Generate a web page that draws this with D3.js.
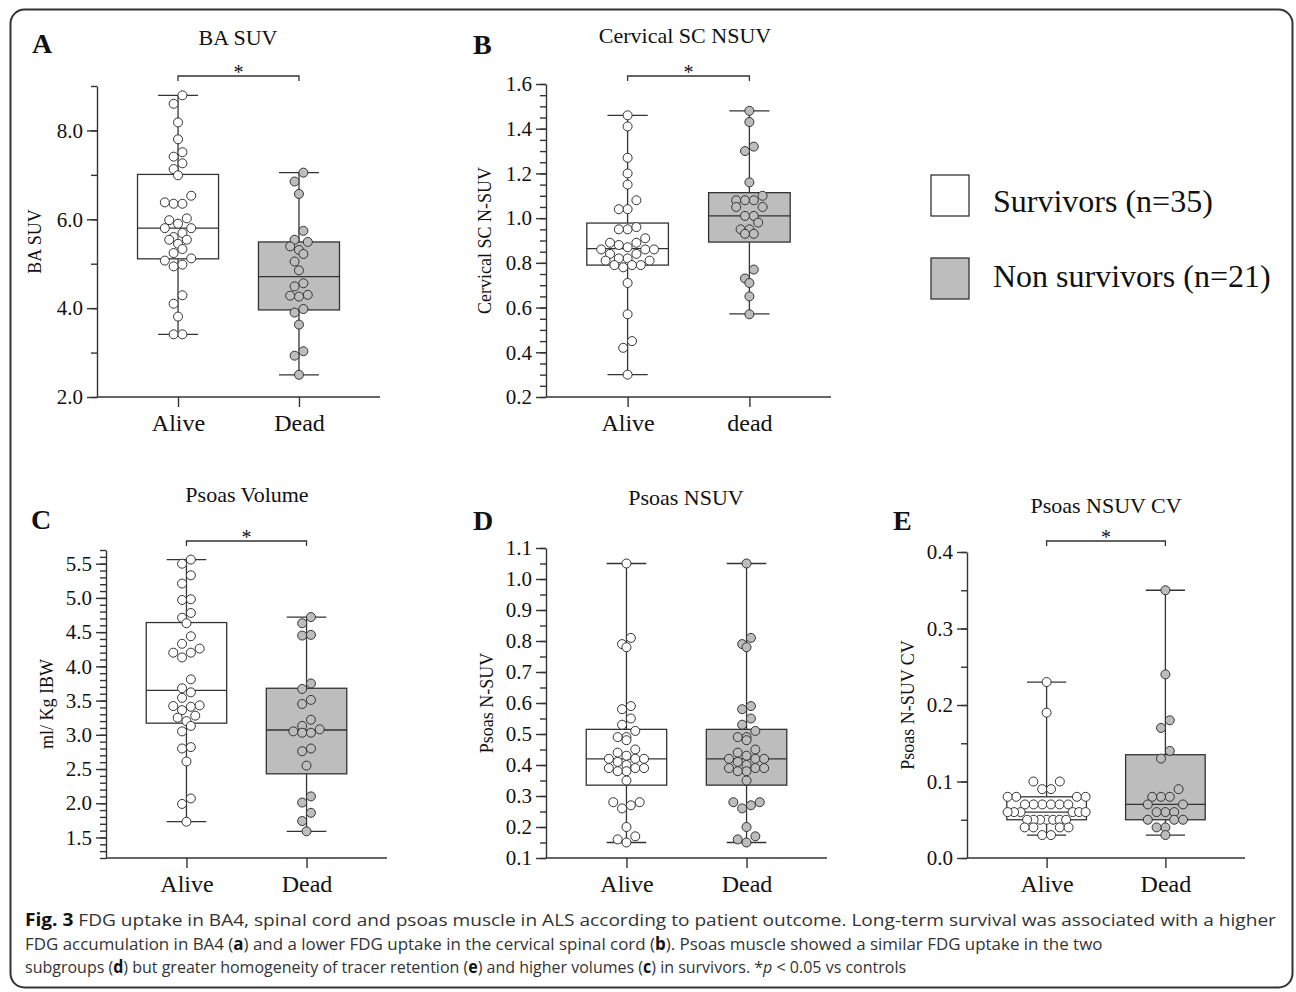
<!DOCTYPE html>
<html lang="en">
<head>
<meta charset="UTF-8">
<script src="https://cdnjs.cloudflare.com/ajax/libs/d3/7.8.5/d3.min.js"></script>
<style>
body { margin: 0; background: #fff; }
svg { display: block; }
.serif { font-family: "Liberation Serif", "Times New Roman", serif; fill: #111; }
.axis path, .axis line { stroke: #333; stroke-width: 1.4; fill: none; }
.axis text { font-family: "Liberation Serif", "Times New Roman", serif; fill: #111; }
.caption { font-family: "Open Sans", "Noto Sans", sans-serif; font-size: 17px; fill: #333; }
</style>
</head>
<body>
<script>
// ---- data ----
var groups = ["Alive", "Dead"];
var catsA = ["Alive", "Dead"];
var catsB = ["Alive", "dead"];

// A: BA SUV
var baAlive = [8.79, 8.6, 8.18, 7.8, 7.51, 7.41, 7.26, 7.13, 6.99, 6.53, 6.35, 6.35, 6.38, 6.02, 5.98, 5.9, 5.8, 5.8,
  5.69, 5.6, 5.54, 5.45, 5.54, 5.33, 5.24, 5.12, 5.07, 4.94, 4.98, 4.29, 4.1, 3.81, 3.41, 3.41];
var baDead = [7.05, 6.85, 6.57, 5.74, 5.49, 5.54, 5.39, 5.31, 5.22, 5.05, 4.85, 4.56, 4.49, 4.3, 4.26, 4.28, 3.98,
  3.9, 3.63, 3.03, 2.93, 2.5];
var baBoxAlive = [3.41, 5.11, 5.8, 7.01, 8.79];   // min, q1, median, q3, max
var baBoxDead = [2.5, 3.96, 4.71, 5.49, 7.05];
var ticksA = [2, 4, 6, 8];

// B: Cervical SC NSUV
var scAlive = [1.46, 1.41, 1.27, 1.2, 1.15, 1.08, 1.04, 1.04, 0.95, 0.95, 0.96, 0.91, 0.89, 0.89, 0.88, 0.87, 0.86,
  0.86, 0.86, 0.84, 0.84, 0.82, 0.82, 0.81, 0.81, 0.79, 0.78, 0.79, 0.79, 0.71, 0.57, 0.45, 0.42, 0.3];
var scDead = [1.48, 1.43, 1.32, 1.3, 1.16, 1.1, 1.08, 1.08, 1.08, 1.05, 1.05, 1.01, 1.01, 0.98, 0.95, 0.95, 0.93,
  0.93, 0.77, 0.71, 0.73, 0.65, 0.57];
var scBoxAlive = [0.3, 0.79, 0.864, 0.978, 1.46];
var scBoxDead = [0.572, 0.893, 1.01, 1.114, 1.48];
var ticksB = [0.2, 0.4, 0.6, 0.8, 1.0, 1.2, 1.4, 1.6];

// C: Psoas Volume
var volAlive = [5.56, 5.5, 5.33, 5.21, 4.97, 4.98, 4.78, 4.71, 4.63, 4.44, 4.33, 4.26, 4.2, 4.2, 4.13, 3.81, 3.68,
  3.62, 3.54, 3.42, 3.36, 3.41, 3.43, 3.25, 3.2, 3.28, 3.13, 3.05, 2.82, 2.8, 2.61, 2.07, 1.99, 1.73];
var volDead = [4.72, 4.63, 4.46, 4.45, 3.75, 3.67, 3.51, 3.45, 3.22, 3.08, 3.03, 3.03, 3.05, 3.13, 2.76, 2.8, 2.55,
  2.1, 2.01, 1.86, 1.74, 1.59];
var volBoxAlive = [1.73, 3.17, 3.65, 4.64, 5.56];
var volBoxDead = [1.59, 2.43, 3.07, 3.68, 4.72];
var ticksC = [1.5, 2.0, 2.5, 3.0, 3.5, 4.0, 4.5, 5.0, 5.5];

// D: Psoas NSUV
var psAlive = [1.05, 0.81, 0.79, 0.78, 0.58, 0.59, 0.55, 0.53, 0.51, 0.49, 0.49, 0.48, 0.45, 0.44, 0.42, 0.42, 0.42,
  0.43, 0.41, 0.4, 0.39, 0.39, 0.39, 0.38, 0.38, 0.35, 0.28, 0.28, 0.26, 0.27, 0.2, 0.17, 0.16, 0.15];
var psDead = [1.05, 0.81, 0.79, 0.78, 0.58, 0.59, 0.55, 0.53, 0.51, 0.49, 0.49, 0.48, 0.45, 0.44, 0.42, 0.42, 0.42,
  0.43, 0.41, 0.4, 0.39, 0.39, 0.39, 0.38, 0.38, 0.35, 0.28, 0.28, 0.26, 0.27, 0.2, 0.17, 0.16, 0.15];
var psBoxAlive = [0.15, 0.335, 0.42, 0.515, 1.05];
var psBoxDead = [0.15, 0.335, 0.42, 0.515, 1.05];
var ticksD = [0.1, 0.2, 0.3, 0.4, 0.5, 0.6, 0.7, 0.8, 0.9, 1.0, 1.1];

// E: Psoas NSUV CV
var cvAlive = [0.23, 0.19, 0.10, 0.10, 0.09, 0.09, 0.08, 0.08, 0.08, 0.08, 0.07, 0.07, 0.07, 0.07, 0.07, 0.07,
  0.06, 0.06, 0.06, 0.06, 0.06, 0.06, 0.05, 0.05, 0.05, 0.05, 0.05, 0.05, 0.05, 0.04, 0.04, 0.04, 0.04, 0.03, 0.03];
var cvDead = [0.35, 0.24, 0.18, 0.17, 0.14, 0.13, 0.09, 0.08, 0.08, 0.08, 0.07, 0.07, 0.06, 0.06, 0.06, 0.05, 0.05,
  0.05, 0.04, 0.04, 0.03];
var cvBoxAlive = [0.03, 0.05, 0.06, 0.08, 0.23];
var cvBoxDead = [0.03, 0.05, 0.07, 0.135, 0.35];
var ticksE = [0, 0.1, 0.2, 0.3, 0.4];

var legendLabels = ["Survivors (n=35)", "Non survivors (n=21)"];

// ---- layout ----
var W = 1296, H = 992;
var fills = ["#ffffff", "#bdbdbd"];
var ink = "#333";

var panels = [
  { letter: "A", title: "BA SUV", yLabel: "BA SUV", cats: catsA, vals: [baAlive, baDead], boxes: [baBoxAlive, baBoxDead],
    domain: [2, 9], major: ticksA, minor: 1, sig: 76,
    left: 97, right: 380, top: 86, bottom: 397, lx: 32, ly: 53, tx: 238, ty: 45, yOff: 62 },
  { letter: "B", title: "Cervical SC NSUV", yLabel: "Cervical SC N-SUV", cats: catsB, vals: [scAlive, scDead], boxes: [scBoxAlive, scBoxDead],
    domain: [0.2, 1.6], major: ticksB, minor: 0.05, sig: 76,
    left: 546, right: 831, top: 84, bottom: 397, lx: 473, ly: 54, tx: 685, ty: 43, yOff: 61 },
  { letter: "C", title: "Psoas Volume", yLabel: "ml/ Kg IBW", cats: catsA, vals: [volAlive, volDead], boxes: [volBoxAlive, volBoxDead],
    domain: [1.2, 5.7], major: ticksC, minor: 0.1, sig: 541,
    left: 106, right: 387, top: 550, bottom: 858, lx: 31, ly: 529, tx: 247, ty: 502, yOff: 59 },
  { letter: "D", title: "Psoas NSUV", yLabel: "Psoas N-SUV", cats: catsA, vals: [psAlive, psDead], boxes: [psBoxAlive, psBoxDead],
    domain: [0.1, 1.1], major: ticksD, minor: 0.05, sig: null,
    left: 546, right: 827, top: 548, bottom: 858, lx: 473, ly: 530, tx: 686, ty: 505, yOff: 59 },
  { letter: "E", title: "Psoas NSUV CV", yLabel: "Psoas N-SUV CV", cats: catsA, vals: [cvAlive, cvDead], boxes: [cvBoxAlive, cvBoxDead],
    domain: [0, 0.4], major: ticksE, minor: 0.05, sig: 541,
    left: 967, right: 1245, top: 552, bottom: 858, lx: 893, ly: 530, tx: 1106, ty: 513, yOff: 59 }
];

var svg = d3.select("body").append("svg")
  .attr("width", W).attr("height", H);

svg.append("rect")
  .attr("x", 10.5).attr("y", 9.5).attr("width", 1282).attr("height", 978)
  .attr("rx", 14).attr("fill", "none").attr("stroke", ink).attr("stroke-width", 2);

// prism-style scatter: points falling in the same ~9px band are spread
// sideways from the centre outwards (lowest values in the middle)
function swarm(ys, binH, maxW, dMax) {
  var bins = [], cur = null;
  ys.slice().sort(function (a, b) { return a - b; }).forEach(function (yy) {
    if (!cur || yy - cur.start >= binH) { cur = { start: yy, ys: [] }; bins.push(cur); }
    cur.ys.push(yy);
  });
  var out = [];
  bins.forEach(function (b) {
    var k = b.ys.length;
    var d = k > 1 ? Math.min(dMax, maxW / (k - 1)) : 0;
    b.ys.slice().sort(function (a, c) { return c - a; }).forEach(function (yy, j) {
      var off;
      if (k % 2) off = j === 0 ? 0 : Math.ceil(j / 2) * (j % 2 ? -1 : 1) * d;
      else off = (Math.floor(j / 2) + 0.5) * (j % 2 ? 1 : -1) * d;
      out.push({ x: off, y: yy });
    });
  });
  return out;
}

panels.forEach(function (p) {
  var g = svg.append("g");

  var y = d3.scaleLinear().domain(p.domain).range([p.bottom, p.top]);
  var x = d3.scalePoint().domain(groups).range([p.left, p.right]).padding(0.67);
  var boxW = x.step() * 0.67, capW = x.step() * 0.33;

  // minor ticks
  g.append("g").attr("class", "axis")
    .attr("transform", "translate(" + p.left + ",0)")
    .call(d3.axisLeft(y).tickValues(d3.range(p.domain[0], p.domain[1] + p.minor / 2, p.minor))
      .tickSize(6).tickSizeOuter(0).tickFormat(""))
    .select(".domain").remove();

  g.append("g").attr("class", "axis")
    .attr("transform", "translate(" + p.left + ",0)")
    .call(d3.axisLeft(y).tickValues(p.major).tickSize(10).tickSizeOuter(0).tickPadding(4)
      .tickFormat(d3.format(".1f")))
    .selectAll("text").style("font-size", "21px");

  var xa = g.append("g").attr("class", "axis")
    .attr("transform", "translate(0," + p.bottom + ")")
    .call(d3.axisBottom(x).tickSize(10).tickSizeOuter(0).tickFormat(function (d, i) { return p.cats[i]; }));
  xa.select(".domain").attr("d", "M" + p.left + ",0H" + p.right);
  xa.selectAll("text").style("font-size", "24px").attr("y", 34).attr("dy", 0);

  // whiskers + boxes
  groups.forEach(function (grp, i) {
    var b = p.boxes[i], cx = x(grp);
    g.append("line").attr("x1", cx).attr("x2", cx).attr("y1", y(b[0])).attr("y2", y(b[1]))
      .attr("stroke", ink).attr("stroke-width", 1.3);
    g.append("line").attr("x1", cx).attr("x2", cx).attr("y1", y(b[3])).attr("y2", y(b[4]))
      .attr("stroke", ink).attr("stroke-width", 1.3);
    [b[0], b[4]].forEach(function (v) {
      g.append("line").attr("x1", cx - capW / 2).attr("x2", cx + capW / 2).attr("y1", y(v)).attr("y2", y(v))
        .attr("stroke", ink).attr("stroke-width", 1.3);
    });
    g.append("rect").attr("x", cx - boxW / 2).attr("width", boxW)
      .attr("y", y(b[3])).attr("height", y(b[1]) - y(b[3]))
      .attr("fill", fills[i]).attr("stroke", ink).attr("stroke-width", 1.3);
    g.append("line").attr("x1", cx - boxW / 2).attr("x2", cx + boxW / 2).attr("y1", y(b[2])).attr("y2", y(b[2]))
      .attr("stroke", ink).attr("stroke-width", 1.3);

    var pts = swarm(p.vals[i].map(y), 9, 78, 8.8);
    g.selectAll(null).data(pts).enter().append("circle")
      .attr("cx", function (d) { return cx + d.x; })
      .attr("cy", function (d) { return d.y; })
      .attr("r", 4.5)
      .attr("fill", fills[i]).attr("stroke", ink).attr("stroke-width", 1);
  });

  // significance bracket
  if (p.sig !== null) {
    var x0 = x("Alive"), x1 = x("Dead");
    g.append("path")
      .attr("d", "M" + x0 + "," + (p.sig + 5) + "V" + p.sig + "H" + x1 + "V" + (p.sig + 5))
      .attr("fill", "none").attr("stroke", ink).attr("stroke-width", 1.3);
    g.append("text").attr("class", "serif").attr("x", (x0 + x1) / 2).attr("y", p.sig + 3)
      .attr("text-anchor", "middle").style("font-size", "20px").text("*");
  }

  // texts
  g.append("text").attr("class", "serif").attr("x", p.lx).attr("y", p.ly)
    .style("font-size", "28px").style("font-weight", "bold").text(p.letter);
  g.append("text").attr("class", "serif").attr("x", p.tx).attr("y", p.ty)
    .attr("text-anchor", "middle").style("font-size", "22px").text(p.title);
  g.append("text").attr("class", "serif")
    .attr("transform", "translate(" + (p.left - p.yOff) + "," + ((p.top + p.bottom) / 2) + ") rotate(-90)")
    .attr("text-anchor", "middle").attr("dy", "0.35em").style("font-size", "18px").text(p.yLabel);
});

// legend
var legend = svg.append("g");
legendLabels.forEach(function (lab, i) {
  legend.append("rect").attr("x", 931).attr("y", [175, 258][i]).attr("width", 38).attr("height", 41)
    .attr("fill", fills[i]).attr("stroke", ink).attr("stroke-width", 1.3);
  legend.append("text").attr("class", "serif").attr("x", 993).attr("y", [212, 287][i])
    .style("font-size", "32px").text(lab);
});

// caption
var capLines = [
  [["b", "Fig. 3"], ["", " FDG uptake in BA4, spinal cord and psoas muscle in ALS according to patient outcome. Long-term survival was associated with a higher"]],
  [["", "FDG accumulation in BA4 ("], ["b", "a"], ["", ") and a lower FDG uptake in the cervical spinal cord ("], ["b", "b"], ["", "). Psoas muscle showed a similar FDG uptake in the two"]],
  [["", "subgroups ("], ["b", "d"], ["", ") but greater homogeneity of tracer retention ("], ["b", "e"], ["", ") and higher volumes ("], ["b", "c"], ["", ") in survivors. *"], ["i", "p"], ["", " < 0.05 vs controls"]]
];
var capEnds = [1277, 1103, 907];
var capBase = [926, 950, 973];
capLines.forEach(function (line, i) {
  var t = svg.append("text").attr("class", "caption");
  line.forEach(function (seg) {
    var ts = t.append("tspan").text(seg[1]);
    if (seg[0] === "b") ts.style("font-weight", "bold").style("fill", "#111");
    if (seg[0] === "i") ts.style("font-style", "italic");
  });
  var len = t.node().getComputedTextLength();
  var sx = (capEnds[i] - 25) / len;
  t.attr("transform", "translate(25," + capBase[i] + ") scale(" + sx + ",1)");
});
</script>
</body>
</html>
